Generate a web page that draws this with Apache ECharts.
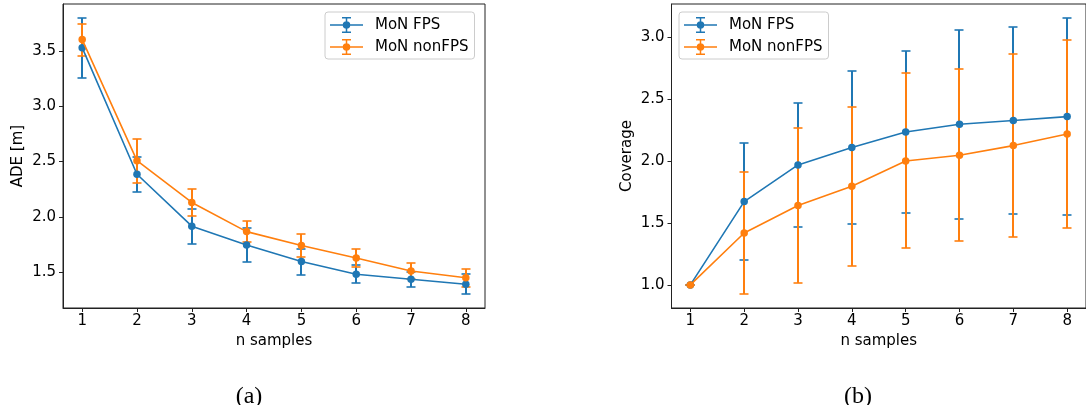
<!DOCTYPE html>
<html>
<head>
<meta charset="utf-8">
<script src="https://cdn.jsdelivr.net/npm/echarts@6/dist/echarts.min.js"></script>
<style>html,body{margin:0;padding:0;background:#fff;}#c{width:1086px;height:405px;}</style>
</head>
<body>
<div id="c"></div>
<script>
// ---- data ----
const nSamples = [1, 2, 3, 4, 5, 6, 7, 8];
const seriesNames = ['MoN FPS', 'MoN nonFPS'];

const adeFpsMean = [3.53, 2.385, 1.915, 1.745, 1.595, 1.48, 1.435, 1.39];
const adeFpsErr = [0.27, 0.16, 0.157, 0.155, 0.118, 0.08, 0.07, 0.09];
const adeNonFpsMean = [3.603, 2.508, 2.13, 1.866, 1.74, 1.628, 1.509, 1.448];
const adeNonFpsErr = [0.145, 0.2, 0.12, 0.096, 0.108, 0.082, 0.07, 0.08];

const covFpsMean = [1.0, 1.672, 1.968, 2.108, 2.234, 2.296, 2.326, 2.358];
const covFpsErr = [0, 0.47, 0.5, 0.617, 0.655, 0.764, 0.752, 0.797];
const covNonFpsMean = [1.0, 1.419, 1.64, 1.796, 2.0, 2.046, 2.124, 2.218];
const covNonFpsErr = [0, 0.494, 0.624, 0.643, 0.706, 0.694, 0.74, 0.76];

const xTicks = [1, 2, 3, 4, 5, 6, 7, 8];
const adeTicks = [1.5, 2.0, 2.5, 3.0, 3.5];
const covTicks = [1.0, 1.5, 2.0, 2.5, 3.0];
const panelLabels = ['(a)', '(b)'];
const axisNames = { x: 'n samples', ade: 'ADE [m]', cov: 'Coverage' };

// ---- helpers ----
const BLUE = '#1f77b4', ORANGE = '#ff7f0e';
const FONT = 'DejaVu Sans';

function pts(mean) { return nSamples.map((x, i) => [x, mean[i]]); }
function errPts(mean, err) { return nSamples.map((x, i) => [x, mean[i] - err[i], mean[i] + err[i]]); }
function range(arrs) {
  let lo = Infinity, hi = -Infinity;
  arrs.forEach(([m, e]) => m.forEach((v, i) => { lo = Math.min(lo, v - e[i]); hi = Math.max(hi, v + e[i]); }));
  const pad = (hi - lo) * 0.05;
  return [lo - pad, hi + pad];
}
const xr = [nSamples[0] - (nSamples[nSamples.length - 1] - nSamples[0]) * 0.05,
            nSamples[nSamples.length - 1] + (nSamples[nSamples.length - 1] - nSamples[0]) * 0.05];
const adeR = range([[adeFpsMean, adeFpsErr], [adeNonFpsMean, adeNonFpsErr]]);
const covR = range([[covFpsMean, covFpsErr], [covNonFpsMean, covNonFpsErr]]);

function errSeries(idx, data, color, name, z) {
  return {
    type: 'custom', name: name, xAxisIndex: idx, yAxisIndex: idx, z: z,
    silent: true, data: data, encode: { x: 0, y: [1, 2] },
    itemStyle: { color: color },
    renderItem: function (params, api) {
      const x = api.value(0);
      const p1 = api.coord([x, api.value(1)]);
      const p2 = api.coord([x, api.value(2)]);
      const cx = Math.round(p1[0]);
      const y1 = Math.round(p1[1]), y2 = Math.round(p2[1]);
      const hw = 4.5;
      const st = { stroke: color, lineWidth: 2 };
      const cs = { stroke: color, lineWidth: 1.6 };
      return {
        type: 'group', children: [
          { type: 'line', shape: { x1: cx, y1: y1, x2: cx, y2: y2 }, style: st },
          { type: 'line', shape: { x1: cx - hw, y1: y1, x2: cx + hw, y2: y1 }, style: cs },
          { type: 'line', shape: { x1: cx - hw, y1: y2, x2: cx + hw, y2: y2 }, style: cs }
        ]
      };
    }
  };
}
function lineSeries(idx, data, color, name, z) {
  return {
    type: 'line', name: name, xAxisIndex: idx, yAxisIndex: idx, z: z,
    data: data, symbol: 'circle', symbolSize: 7.5, showSymbol: true,
    itemStyle: { color: color }, lineStyle: { color: color, width: 1.6 },
    emphasis: { disabled: true }, animation: false
  };
}

const axisLineStyle = { color: '#222', width: 1 };
function xAxis(idx) {
  return {
    type: 'value', gridIndex: idx, min: xr[0], max: xr[1],
    name: axisNames.x, nameLocation: 'middle', nameGap: 26,
    nameTextStyle: { fontFamily: FONT, fontSize: 15, color: '#000' },
    splitLine: { show: false },
    axisLine: { show: true, lineStyle: axisLineStyle },
    axisTick: { show: true, inside: false, length: 4, lineStyle: axisLineStyle, customValues: xTicks },
    axisLabel: { fontFamily: FONT, fontSize: 15, color: '#000', margin: 6, customValues: xTicks,
                 formatter: v => String(Math.round(v)) }
  };
}
function yAxis(idx, r, ticks, name) {
  return {
    type: 'value', gridIndex: idx, min: r[0], max: r[1],
    name: name, nameLocation: 'middle', nameGap: 37, nameRotate: 90,
    nameTextStyle: { fontFamily: FONT, fontSize: 15, color: '#000' },
    splitLine: { show: false },
    axisLine: { show: true, lineStyle: axisLineStyle },
    axisTick: { show: true, inside: false, length: 4, lineStyle: axisLineStyle, customValues: ticks },
    axisLabel: { fontFamily: FONT, fontSize: 15, color: '#000', margin: 7, customValues: ticks,
                 formatter: v => v.toFixed(1) }
  };
}

const legendIcon = 'path://M0 7.25H33V8.75H0Z M15.75 0H17.25V16H15.75Z M12 0H21V1.5H12Z M12 14.5H21V16H12Z M12.75 8A3.75 3.75 0 1 1 20.25 8A3.75 3.75 0 1 1 12.75 8Z';
function legend(left) {
  return {
    orient: 'vertical', left: left, top: 12,
    data: [{ name: seriesNames[0], itemStyle: { color: BLUE } }, { name: seriesNames[1], itemStyle: { color: ORANGE } }],
    icon: legendIcon, itemWidth: 33, itemHeight: 16, itemGap: 6,
    padding: [5, 6, 4, 5],
    borderColor: '#cccccc', borderWidth: 1, borderRadius: 3,
    backgroundColor: 'rgba(255,255,255,0.8)', selectedMode: false,
    textStyle: { fontFamily: FONT, fontSize: 15, color: '#000', padding: [0, 0, 0, 7] }
  };
}

const option = {
  animation: false,
  backgroundColor: '#fff',
  color: [BLUE, ORANGE],
  grid: [
    { left: 63, right: 601, top: 4, bottom: 97, show: true, borderColor: '#222', borderWidth: 1, backgroundColor: 'transparent' },
    { left: 671.5, right: -7, top: 4, bottom: 97, show: true, borderColor: '#222', borderWidth: 1, backgroundColor: 'transparent' }
  ],
  xAxis: [xAxis(0), xAxis(1)],
  yAxis: [yAxis(0, adeR, adeTicks, axisNames.ade), yAxis(1, covR, covTicks, axisNames.cov)],
  legend: [legend(325), legend(679)],
  graphic: [
    { type: 'text', x: 249, y: 397, style: { text: panelLabels[0], font: '24px "Liberation Serif"', fill: '#000', align: 'center', verticalAlign: 'middle' } },
    { type: 'text', x: 858, y: 397, style: { text: panelLabels[1], font: '24px "Liberation Serif"', fill: '#000', align: 'center', verticalAlign: 'middle' } }
  ],
  series: [
    errSeries(0, errPts(adeFpsMean, adeFpsErr), BLUE, seriesNames[0], 1),
    errSeries(0, errPts(adeNonFpsMean, adeNonFpsErr), ORANGE, seriesNames[1], 2),
    lineSeries(0, pts(adeFpsMean), BLUE, seriesNames[0], 3),
    lineSeries(0, pts(adeNonFpsMean), ORANGE, seriesNames[1], 4),
    errSeries(1, errPts(covFpsMean, covFpsErr), BLUE, seriesNames[0], 1),
    errSeries(1, errPts(covNonFpsMean, covNonFpsErr), ORANGE, seriesNames[1], 2),
    lineSeries(1, pts(covFpsMean), BLUE, seriesNames[0], 3),
    lineSeries(1, pts(covNonFpsMean), ORANGE, seriesNames[1], 4)
  ]
};
const chart = echarts.init(document.getElementById('c'), null, { renderer: 'canvas' });
chart.setOption(option);
</script>
</body>
</html>
